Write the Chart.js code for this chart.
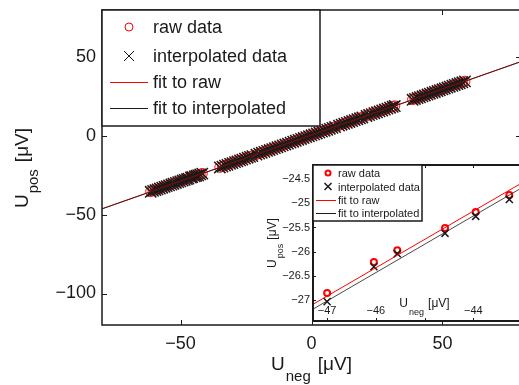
<!DOCTYPE html>
<html>
<head>
<meta charset="utf-8">
<script src="https://cdn.jsdelivr.net/npm/chart.js@4.4.1/dist/chart.umd.min.js"></script>
<style>
html, body { margin: 0; padding: 0; background: #fff; overflow: hidden; }
#wrap { position: relative; width: 519px; height: 385px; overflow: hidden; }
#main { position: absolute; left: 0; top: 0; }
#inset { position: absolute; left: 260px; top: 160px; }
</style>
</head>
<body>
<div id="wrap">
  <canvas id="main" width="521" height="385"></canvas>
  <canvas id="inset" width="262" height="165"></canvas>
</div>
<script>
// U_neg values (x) shared by raw and interpolated points
var uNeg = [
  -61.4, -60.5, -59.6, -58.8, -57.9, -57.0, -56.1, -55.3, -54.4, -53.5, -52.7, -51.8, -50.9,
  -50.1, -49.2, -48.4, -47.6, -47.0, -46.04, -45.56, -44.58, -43.95, -43.26, -42.5, -41.7,
  -35.0, -34.0, -33.0, -32.1, -31.1, -30.2, -29.2, -28.3, -27.3, -26.4, -25.4, -24.4, -23.5, -22.6,
  -21.0, -20.0, -19.0, -18.0, -17.0, -16.0, -15.0, -14.0, -13.0, -12.0, -11.0, -10.0, -9.0, -8.0,
  -7, -6, -5, -4, -3, -2, -1, 0, 1, 2, 3, 4, 5, 6, 7, 8, 9,
  10.5, 11.5, 12.5, 13.5, 14.5, 15.5, 16.5, 17.5, 18.5, 19.4,
  21.0, 22.0, 23.0, 24.0, 25.0, 26.0, 27.0, 28.0, 29.0, 30.0, 31.0, 31.8,
  38.6, 39.5, 40.5, 41.4, 42.4, 43.3, 44.3, 45.2, 46.2, 47.1, 48.1, 49.0, 50.0, 50.9, 51.9,
  52.8, 53.8, 54.7, 55.7, 56.6, 57.6, 58.6
];
var uPosRaw = [
  -35.30, -34.77, -34.25, -33.78, -33.25, -32.73, -32.20, -31.74, -31.21, -30.68, -30.22, -29.69, -29.17,
  -28.70, -28.17, -27.71, -27.24, -26.85, -26.21, -25.97, -25.51, -25.18, -24.83, -24.26, -23.79,
  -19.88, -19.30, -18.71, -18.19, -17.60, -17.08, -16.49, -15.97, -15.38, -14.86, -14.27, -13.69, -13.16, -12.64,
  -11.70, -11.12, -10.54, -9.95, -9.37, -8.78, -8.20, -7.62, -7.03, -6.45, -5.86, -5.28, -4.70, -4.11,
  -3.53, -2.94, -2.36, -1.78, -1.19, -0.61, -0.02, 0.56, 1.14, 1.73, 2.31, 2.90, 3.48, 4.06, 4.65, 5.23, 5.82,
  6.69, 7.28, 7.86, 8.44, 9.03, 9.61, 10.20, 10.78, 11.36, 11.89,
  12.82, 13.41, 13.99, 14.58, 15.16, 15.74, 16.33, 16.91, 17.50, 18.08, 18.66, 19.13,
  23.10, 23.63, 24.21, 24.74, 25.32, 25.85, 26.43, 26.96, 27.54, 28.07, 28.65, 29.18, 29.76, 30.29, 30.87,
  31.40, 31.98, 32.50, 33.09, 33.61, 34.20, 34.78
];
var uPosInterp = [
  -35.42, -34.88, -34.37, -33.89, -33.36, -32.85, -32.31, -31.86, -31.32, -30.80, -30.33, -29.81, -29.28,
  -28.82, -28.28, -27.83, -27.35, -27.03, -26.31, -26.04, -25.62, -25.27, -24.92, -24.37, -23.90,
  -19.99, -19.41, -18.83, -18.30, -17.71, -17.19, -16.61, -16.08, -15.49, -14.97, -14.39, -13.80, -13.27, -12.75,
  -11.81, -11.23, -10.65, -10.06, -9.48, -8.90, -8.31, -7.73, -7.14, -6.56, -5.98, -5.39, -4.81, -4.22,
  -3.64, -3.05, -2.47, -1.89, -1.30, -0.72, -0.13, 0.45, 1.03, 1.62, 2.20, 2.79, 3.37, 3.95, 4.54, 5.12, 5.71,
  6.58, 7.17, 7.75, 8.33, 8.92, 9.50, 10.09, 10.67, 11.25, 11.78,
  12.71, 13.30, 13.88, 14.47, 15.05, 15.63, 16.22, 16.80, 17.39, 17.97, 18.55, 19.02,
  22.99, 23.52, 24.10, 24.63, 25.21, 25.74, 26.32, 26.85, 27.43, 27.96, 28.54, 29.07, 29.65, 30.18, 30.76,
  31.29, 31.87, 32.39, 32.98, 33.50, 34.09, 34.67
];
// fitted lines, end points
var fitX = [-80, 80];
var fitRawY = [-46.2, 47.3];
var fitInterpY = [-46.3, 47.2];

var legendLabels = ['raw data', 'interpolated data', 'fit to raw', 'fit to interpolated'];
var mainXTicks = [-50, 0, 50];
var mainYTicks = [-100, -50, 0, 50];
var insetXTicks = [-47, -46, -45, -44];
var insetXLabels = ['\u221247', '\u221246', '', '\u221244'];
var insetYTicks = [-27, -26.5, -26, -25.5, -25, -24.5];

var FONT = '"Liberation Sans", Arial, Helvetica, sans-serif';
var INK = '#1a1a1a';
var RED = '#ff0000';

function pts(xs, ys) {
  return xs.map(function (x, i) { return { x: x, y: ys[i] }; });
}
function minus(v) {
  return String(v).replace('-', '\u2212');
}
function keepTicks(list) {
  return function (scale) {
    scale.ticks = list.map(function (v) { return { value: v }; });
  };
}
function fitX_(h) {
  return function (s) { s.height = h; s.paddingLeft = 0; s.paddingRight = 0; };
}
function fitY_(w) {
  return function (s) { s.width = w; s.paddingTop = 0; s.paddingBottom = 0; };
}

// white plot area, box and inward tick marks
function framePlugin(lw, tickLen) {
  return {
    id: 'frame',
    beforeDraw: function (chart) {
      var a = chart.chartArea, ctx = chart.ctx;
      ctx.save();
      ctx.fillStyle = '#fff';
      ctx.fillRect(a.left, a.top, a.right - a.left, a.bottom - a.top);
      ctx.restore();
    },
    afterDatasetsDraw: function (chart) {
      var a = chart.chartArea, ctx = chart.ctx;
      var x = chart.scales.x, y = chart.scales.y;
      ctx.save();
      ctx.strokeStyle = INK;
      ctx.lineWidth = 1;
      ctx.beginPath();
      x.ticks.forEach(function (t) {
        var px = Math.round(x.getPixelForValue(t.value)) + 0.5;
        ctx.moveTo(px, a.bottom); ctx.lineTo(px, a.bottom - tickLen);
        ctx.moveTo(px, a.top); ctx.lineTo(px, a.top + tickLen);
      });
      y.ticks.forEach(function (t) {
        var py = Math.round(y.getPixelForValue(t.value)) + 0.5;
        ctx.moveTo(a.left, py); ctx.lineTo(a.left + tickLen, py);
        ctx.moveTo(a.right, py); ctx.lineTo(a.right - tickLen, py);
      });
      ctx.stroke();
      ctx.lineWidth = lw;
      ctx.strokeRect(a.left, a.top, a.right - a.left, a.bottom - a.top);
      ctx.restore();
    }
  };
}

// axis title with subscript: U_sub [µV]
function drawTitle(ctx, cx, cy, sub, size, subSize, drop, gap, rotate) {
  ctx.save();
  ctx.translate(cx, cy);
  if (rotate) ctx.rotate(-Math.PI / 2);
  ctx.fillStyle = INK;
  ctx.textBaseline = 'alphabetic';
  ctx.textAlign = 'left';
  ctx.font = size + 'px ' + FONT;
  var w1 = ctx.measureText('U').width;
  var w3 = ctx.measureText('[\u03bcV]').width;
  ctx.font = subSize + 'px ' + FONT;
  var w2 = ctx.measureText(sub).width;
  var x0 = -(w1 + w2 + w3 + gap + 1) / 2;
  ctx.font = size + 'px ' + FONT;
  ctx.fillText('U', x0, 0);
  ctx.font = subSize + 'px ' + FONT;
  ctx.fillText(sub, x0 + w1 + 1, drop);
  ctx.font = size + 'px ' + FONT;
  ctx.fillText('[\u03bcV]', x0 + w1 + w2 + 1 + gap, 0);
  ctx.restore();
}

function drawLegend(ctx, c) {
  var b = c.box;
  ctx.save();
  ctx.fillStyle = '#fff';
  ctx.fillRect(b[0], b[1], b[2] - b[0], b[3] - b[1]);
  ctx.strokeStyle = INK;
  ctx.lineWidth = c.border;
  ctx.strokeRect(b[0], b[1], b[2] - b[0], b[3] - b[1]);
  ctx.font = c.size + 'px ' + FONT;
  ctx.textBaseline = 'middle';
  ctx.textAlign = 'left';
  legendLabels.forEach(function (label, i) {
    var y = c.rows[i];
    ctx.beginPath();
    if (i === 0) {
      ctx.strokeStyle = RED; ctx.lineWidth = c.circleW;
      ctx.arc(c.markX, y, c.circleR, 0, Math.PI * 2);
    } else if (i === 1) {
      ctx.strokeStyle = INK; ctx.lineWidth = c.crossW;
      ctx.moveTo(c.markX - c.crossR, y - c.crossR); ctx.lineTo(c.markX + c.crossR, y + c.crossR);
      ctx.moveTo(c.markX - c.crossR, y + c.crossR); ctx.lineTo(c.markX + c.crossR, y - c.crossR);
    } else {
      ctx.strokeStyle = i === 2 ? RED : INK; ctx.lineWidth = 1;
      ctx.moveTo(c.line[0], y + 0.5); ctx.lineTo(c.line[1], y + 0.5);
    }
    ctx.stroke();
    ctx.fillStyle = INK;
    ctx.fillText(label, c.textX, y + 1);
  });
  ctx.restore();
}

function makeDatasets(circleR, circleW, crossR, crossW) {
  return [
    { data: pts(fitX, fitInterpY), showLine: true, borderColor: INK, borderWidth: 0.8, pointRadius: 0, order: 1 },
    { data: pts(fitX, fitRawY), showLine: true, borderColor: RED, borderWidth: 1, pointRadius: 0, order: 2 },
    { data: pts(uNeg, uPosInterp), pointStyle: 'crossRot', pointRadius: crossR, borderColor: INK,
      borderWidth: crossW, backgroundColor: 'transparent', order: 3 },
    { data: pts(uNeg, uPosRaw), pointStyle: 'circle', pointRadius: circleR, borderColor: RED,
      borderWidth: circleW, backgroundColor: 'transparent', order: 4 }
  ];
}

var mainChart = new Chart(document.getElementById('main'), {
  type: 'scatter',
  data: { datasets: makeDatasets(5, 1, 8, 1.5) },
  options: {
    responsive: false,
    animation: false,
    events: [],
    layout: { autoPadding: false, padding: { top: 10, right: 0, bottom: 0, left: 0 } },
    plugins: { legend: { display: false }, tooltip: { enabled: false } },
    scales: {
      x: {
        type: 'linear', min: -80, max: 80,
        grid: { display: false, drawTicks: false }, border: { display: false },
        afterBuildTicks: keepTicks(mainXTicks),
        afterFit: fitX_(60),
        ticks: { color: INK, padding: 8, font: { family: FONT, size: 18 }, callback: minus }
      },
      y: {
        type: 'linear', min: -120, max: 80,
        grid: { display: false, drawTicks: false }, border: { display: false },
        afterBuildTicks: keepTicks(mainYTicks),
        afterFit: fitY_(102),
        ticks: { color: INK, padding: 6, font: { family: FONT, size: 18 }, callback: minus }
      }
    }
  },
  plugins: [framePlugin(1.5, 5), {
    id: 'extras',
    afterDraw: function (chart) {
      var ctx = chart.ctx;
      drawLegend(ctx, {
        box: [102, 10, 320, 126], border: 1.5, size: 18,
        rows: [27, 56, 82, 108], markX: 129, line: [110, 148], textX: 153,
        circleR: 4, circleW: 1, crossR: 5, crossW: 1
      });
      drawTitle(ctx, 311.5, 370, 'neg', 19, 15, 11, 7, false);
      drawTitle(ctx, 28, 168, 'pos', 19, 15, 10, 7, true);
    }
  }]
});

var insetChart = new Chart(document.getElementById('inset'), {
  type: 'scatter',
  data: { datasets: makeDatasets(3, 2, 5, 1.5) },
  options: {
    responsive: false,
    animation: false,
    events: [],
    layout: { autoPadding: false, padding: { top: 5, right: 0, bottom: 0, left: 0 } },
    plugins: { legend: { display: false }, tooltip: { enabled: false } },
    scales: {
      x: {
        type: 'linear', min: -47.29, max: -43.0,
        grid: { display: false, drawTicks: false }, border: { display: false },
        afterBuildTicks: keepTicks(insetXTicks),
        afterFit: fitX_(4),
        ticks: {
          color: INK, mirror: true, padding: 3, font: { family: FONT, size: 11 },
          callback: function (v) { return insetXLabels[insetXTicks.indexOf(v)]; }
        }
      },
      y: {
        type: 'linear', min: -27.43, max: -24.21,
        grid: { display: false, drawTicks: false }, border: { display: false },
        afterBuildTicks: keepTicks(insetYTicks),
        afterFit: fitY_(53),
        ticks: { color: INK, padding: 3, font: { family: FONT, size: 11 }, callback: minus }
      }
    }
  },
  plugins: [framePlugin(2, 3), {
    id: 'extras',
    afterDraw: function (chart) {
      var ctx = chart.ctx;
      drawLegend(ctx, {
        box: [53, 5, 162, 61], border: 1.5, size: 11,
        rows: [13, 26.5, 40, 53], markX: 68, line: [56, 76], textX: 78,
        circleR: 2.5, circleW: 2, crossR: 3.5, crossW: 1.5
      });
      drawTitle(ctx, 164.5, 147, 'neg', 12, 9, 8, 4, false);
      drawTitle(ctx, 16, 83, 'pos', 12, 9, 7, 4, true);
    }
  }]
});
</script>
</body>
</html>
